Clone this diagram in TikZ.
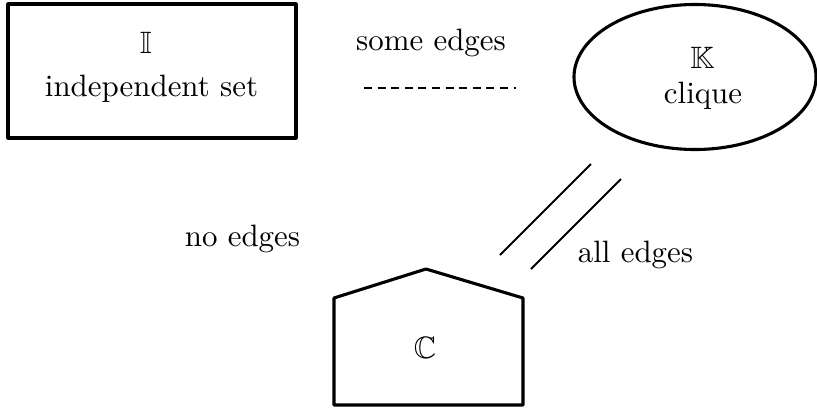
\documentclass[tikz,border=0pt]{standalone}
\usepackage{amssymb}
\usetikzlibrary{shapes.geometric}
\begin{document}
\begin{tikzpicture}[x=0.3236pt,y=-0.3236pt,
  shapeline/.style={line width=1pt, line join=round},
  thinline/.style={line width=0.65pt},
  lbl/.style={inner sep=0pt, anchor=base, font=\fontsize{10}{12}\selectfont}]
\useasboundingbox (0,0) rectangle (817,410);
% independent set box
\node[draw, shapeline, rectangle, minimum width=288*0.3236pt, minimum height=134*0.3236pt, inner sep=0pt] (I) at (152,71) {};
\node[lbl] (Isym) at (146,53) {$\mathbb{I}$};
\node[lbl] (Itxt) at (151.5,96) {independent set};
% clique ellipse
\node[draw, shapeline, ellipse, minimum width=242*0.3236pt, minimum height=145*0.3236pt, inner sep=0pt] (K) at (695,77) {};
\node[lbl] (Ksym) at (702.5,68) {$\mathbb{K}$};
\node[lbl] (Ktxt) at (703,103) {clique};
% C pentagon
\draw[shapeline] (334,405) -- (334,298) -- (426,269) -- (523,298) -- (523,405) -- cycle;
\node[lbl] (C) at (425,358) {$\mathbb{C}$};
% labels
\node[lbl] (some) at (431,50) {some edges};
\node[lbl] (no) at (242.5,246) {no edges};
\node[lbl] (all) at (635.5,262) {all edges};
% dashed line
\coordinate (d1) at (364,88);
\coordinate (d2) at (516,88);
\draw[thinline, dash pattern=on 2.6pt off 1.8pt] (d1) -- (d2);
% double lines
\coordinate (a1) at (500,255);
\coordinate (a2) at (591,164);
\coordinate (b1) at (531,269);
\coordinate (b2) at (621,179);
\draw[thinline] (a1) -- (a2);
\draw[thinline] (b1) -- (b2);
\end{tikzpicture}
\end{document}
